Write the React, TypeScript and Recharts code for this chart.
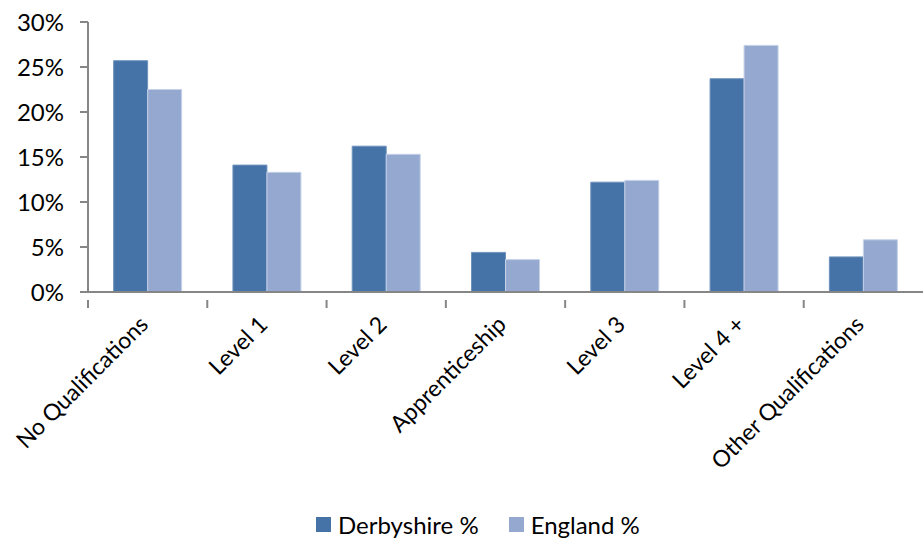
import React from 'react';
import { BarChart, Bar, XAxis, YAxis, Legend } from 'recharts';

const categories = [
  'No Qualifications',
  'Level 1',
  'Level 2',
  'Apprenticeship',
  'Level 3',
  'Level 4 +',
  'Other Qualifications',
];
const derbyshire = [25.7, 14.1, 16.2, 4.4, 12.2, 23.7, 3.9];
const england = [22.5, 13.3, 15.3, 3.6, 12.4, 27.4, 5.8];
const yTicks = [0, 5, 10, 15, 20, 25, 30];

const data = categories.map((name, i) => ({
  name,
  derbyshire: derbyshire[i],
  england: england[i],
}));

const FONT = 'Lato, "Open Sans", sans-serif';
const AXIS = '#868686';

// label rotated -45deg, plus the boundary tick Excel draws between categories
const CategoryTick = (props: any) => {
  const { x, y, payload } = props;
  const half = payload.offset || 0;
  const lx = x + 2;
  const ly = y + 26;
  return (
    <g>
      <line x1={x - half} y1={y} x2={x - half} y2={y + 8} stroke={AXIS} strokeWidth={2} />
      <text
        x={lx}
        y={ly}
        textAnchor="end"
        transform={`rotate(-45, ${lx}, ${ly})`}
        fontSize={23}
        fontFamily={FONT}
        fill="#000"
      >
        {payload.value}
      </text>
    </g>
  );
};

const LegendBox = (props: any) => {
  const items = props.payload || [];
  return (
    <div style={{ display: 'flex', alignItems: 'center', fontFamily: FONT, fontSize: 24 }}>
      {items.map((it: any, i: number) => (
        <div key={i} style={{ display: 'flex', alignItems: 'center', marginRight: 30 }}>
          <div style={{ width: 15, height: 15, background: it.color, marginRight: 7 }} />
          <span style={{ color: '#000' }}>{it.value}</span>
        </div>
      ))}
    </div>
  );
};

export default function App() {
  return (
    <div style={{ position: 'absolute', left: 0, top: 0, width: 923, height: 541, background: '#fff' }}>
      <BarChart
        width={923}
        height={541}
        data={data}
        margin={{ top: 22, right: 0, bottom: 0, left: 0 }}
        barCategoryGap="21.5%"
        barGap={0}
      >
        <XAxis
          dataKey="name"
          interval={0}
          height={249}
          axisLine={{ stroke: AXIS, strokeWidth: 2 }}
          tickLine={false}
          tick={<CategoryTick />}
        />
        <YAxis
          width={88}
          domain={[0, 30]}
          ticks={yTicks}
          tickFormatter={(v: number) => `${v}%`}
          axisLine={{ stroke: AXIS, strokeWidth: 2 }}
          tickLine={{ stroke: AXIS, strokeWidth: 2 }}
          tickSize={8}
          tickMargin={16}
          tick={{ fontSize: 24, fontFamily: FONT, fill: '#000' }}
        />
        <Legend
          layout="horizontal"
          verticalAlign="middle"
          content={<LegendBox />}
          wrapperStyle={{ position: 'absolute', left: 316, top: 510, width: 'auto' }}
        />
        <Bar dataKey="derbyshire" name="Derbyshire %" fill="#4573A7" stroke="#6f92bd" strokeWidth={1} isAnimationActive={false} />
        <Bar dataKey="england" name="England %" fill="#95A9D0" stroke="#c5d2e8" strokeWidth={1} isAnimationActive={false} />
      </BarChart>
    </div>
  );
}
